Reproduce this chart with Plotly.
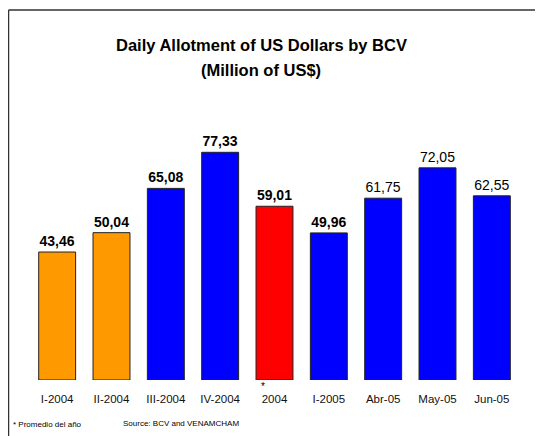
import plotly.graph_objects as go

categories = ["I-2004", "II-2004", "III-2004", "IV-2004", "2004", "I-2005", "Abr-05", "May-05", "Jun-05"]
values = [43.46, 50.04, 65.08, 77.33, 59.01, 49.96, 61.75, 72.05, 62.55]
colors = ["#FF9900", "#FF9900", "#0000FF", "#0000FF", "#FF0000", "#0000FF", "#0000FF", "#0000FF", "#0000FF"]
bold_count = 6

labels = []
for i, v in enumerate(values):
    s = f"{v:.2f}".replace(".", ",")
    labels.append(f"<b>{s}</b>" if i < bold_count else s)

FONT = "Liberation Sans, Arial, sans-serif"

# page body has an 8px default margin; work in page pixels and offset
OFF = 8
W, H = 543 - OFF, 436 - OFF
ml, mr, mt, mb = 22, 24, 107, 56
pw, ph = W - ml - mr, H - mt - mb

def px_x(x):
    return (x - OFF - ml) / pw

def px_y(y):
    return (H - mb - (y - OFF)) / ph

fig = go.Figure(go.Bar(
    x=categories, y=values, text=labels, textposition="outside",
    textfont=dict(family=FONT, size=14, color="black"),
    marker=dict(color=colors, line=dict(color="#222222", width=1)),
    cliponaxis=False,
))

fig.update_layout(
    width=W, height=H,
    margin=dict(l=ml, r=mr, t=mt, b=mb),
    plot_bgcolor="white", paper_bgcolor="white",
    bargap=0.32, showlegend=False,
    font=dict(family=FONT, color="black"),
    xaxis=dict(showline=False, showgrid=False, zeroline=False, ticks="",
               tickfont=dict(size=11.5, family=FONT, color="#111111"), ticklabelstandoff=10),
    yaxis=dict(range=[0, 90], visible=False),
)

fig.add_annotation(text="<b>Daily Allotment of US Dollars by BCV</b>", xref="paper", yref="paper",
                   x=px_x(261), y=px_y(45), showarrow=False, font=dict(size=16.5, family=FONT),
                   xanchor="center", yanchor="middle")
fig.add_annotation(text="<b>(Million of US$)</b>", xref="paper", yref="paper",
                   x=px_x(261), y=px_y(70), showarrow=False, font=dict(size=16.5, family=FONT),
                   xanchor="center", yanchor="middle")
fig.add_annotation(text="*", xref="paper", yref="paper", x=px_x(262.5), y=px_y(386),
                   showarrow=False, font=dict(size=10, family=FONT), xanchor="center", yanchor="middle",
                   borderpad=0)
fig.add_annotation(text="* Promedio del año", xref="paper", yref="paper", x=px_x(11), y=px_y(424),
                   showarrow=False, font=dict(size=8, family=FONT), xanchor="left", yanchor="middle")
fig.add_annotation(text="Source: BCV and VENAMCHAM", xref="paper", yref="paper", x=px_x(121), y=px_y(423),
                   showarrow=False, font=dict(size=8, family=FONT), xanchor="left", yanchor="middle")

fig.add_shape(type="line", xref="paper", yref="paper", x0=px_x(8.5), x1=px_x(8.5), y0=px_y(10), y1=px_y(440),
              line=dict(color="#333333", width=1.5))
fig.add_shape(type="line", xref="paper", yref="paper", x0=px_x(8.5), x1=px_x(545), y0=px_y(10), y1=px_y(10),
              line=dict(color="#333333", width=1.5))

fig.write_html("out.html")
